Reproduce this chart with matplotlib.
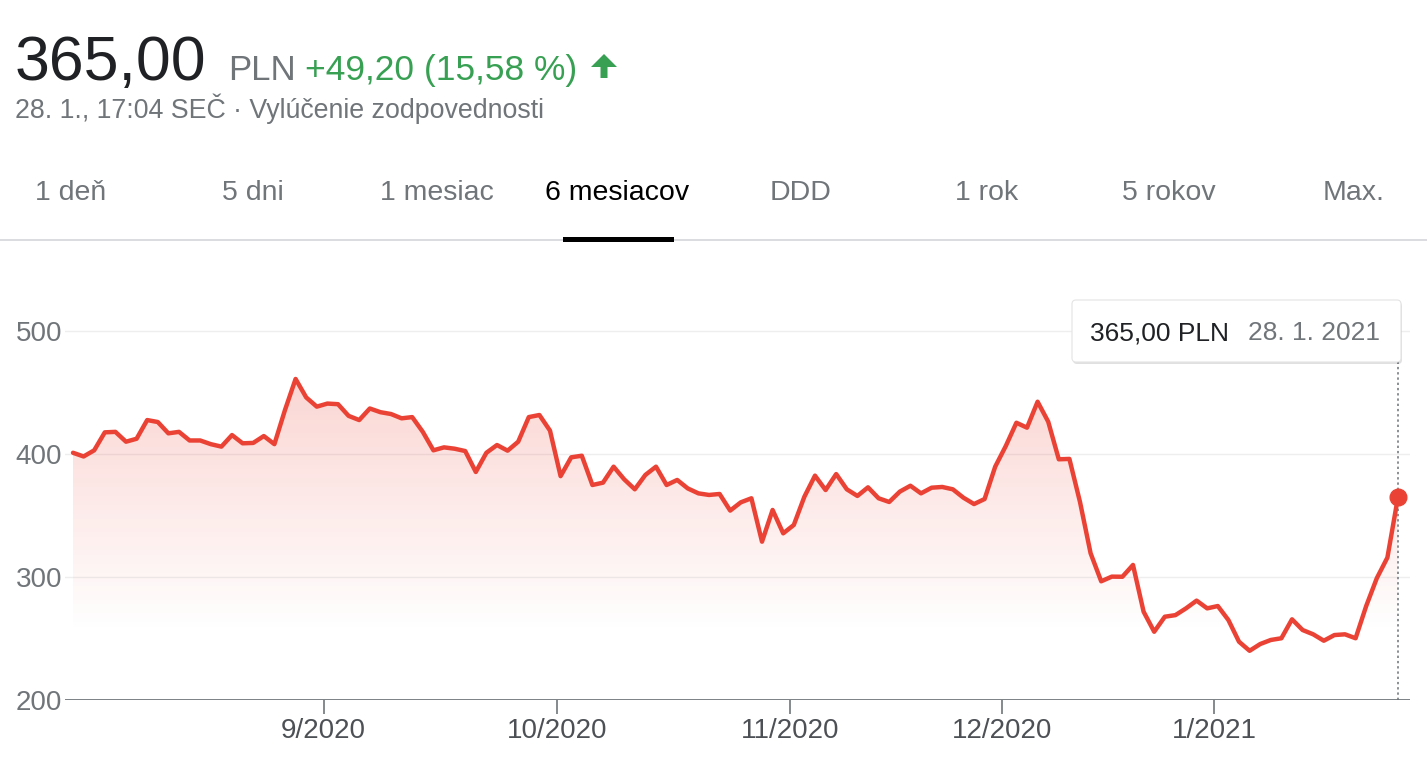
import numpy as np
import pandas as pd
import matplotlib.pyplot as plt
from matplotlib.patches import FancyBboxPatch, Polygon, Rectangle

plt.rcParams['font.family'] = ['Liberation Sans', 'DejaVu Sans']

# trading days on the Warsaw exchange, 29.7.2020 - 28.1.2021
holidays = ["2020-11-11", "2020-12-24", "2020-12-25", "2020-12-31",
            "2021-01-01", "2021-01-06"]
dates = pd.bdate_range("2020-07-29", "2021-01-28", freq="C", holidays=holidays)

prices = [
    401, 398, 403, 417.6, 418, 410, 412.4, 427.6, 426, 416.8,
    418, 411, 411, 408, 406, 415.4, 408.7, 409, 414.6, 408,
    435.8, 461, 446, 438.5, 441, 440.5, 431, 427.6, 437, 434,
    432.5, 429, 430, 418, 403, 405.4, 404.3, 402.4, 385.4, 401,
    407.3, 402.7, 410, 430, 431.7, 419, 382, 397.3, 398.6, 374.8,
    376.7, 389.7, 379.4, 371.3, 383, 389.7, 374.8, 378.9, 372, 368,
    366.7, 367.5, 354, 360.7, 364, 328.7, 354.5, 335.5, 342.3, 365.3,
    382.4, 370.7, 383.7, 371.3, 365.9, 372.9, 364, 361, 369.4, 374.2,
    368, 372.6, 373.2, 371.3, 364.5, 359.3, 363.4, 389.7, 406.5, 425.4,
    421.4, 442.5, 426.3, 395.7, 396, 361, 319.3, 296.5, 300.3, 300.2,
    309.8, 271.8, 255.5, 267.7, 269, 274.5, 280.8, 274.5, 276.4, 265,
    247.4, 240, 245.5, 248.8, 250.2, 265.6, 256.9, 253.4, 248.2, 252.8,
    253.4, 250.2, 276.4, 299, 315.8, 365,
]
assert len(prices) == len(dates)

month_starts = ["2020-09-01", "2020-10-01", "2020-11-01", "2020-12-01", "2021-01-01"]
month_labels = ["9/2020", "10/2020", "11/2020", "12/2020", "1/2021"]
y_ticks = [200, 300, 400, 500]

tabs = ["1 deň", "5 dni", "1 mesiac", "6 mesiacov", "DDD", "1 rok", "5 rokov", "Max."]
tab_x = [35, 222, 380, 545, 770, 955, 1122, 1323]
active_tab = "6 mesiacov"

RED = "#ea4335"
GREEN = "#37a052"
INK = "#202124"
GREY = "#70757a"

W, H = 1427, 766
fig = plt.figure(figsize=(W / 100, H / 100), dpi=100)
fig.patch.set_facecolor("white")

# ---- chart axes (pixel geometry: x 65..1410, 200 at y=700, 123 px per 100) ----
x = np.arange(len(prices))
step = 10.6
x0_px = 73
xl = (65 - x0_px) / step
xr = (1410 - x0_px) / step
ytop = 200 + (700 - 294) / 1.23
ax = fig.add_axes([65 / W, 1 - 700 / H, (1410 - 65) / W, (700 - 294) / H])
ax.set_xlim(xl, xr)
ax.set_ylim(200, ytop)

for yv in y_ticks[1:]:
    ax.axhline(yv, color="#eeeeee", lw=1.0, zorder=0)
ax.axhline(200, color=GREY, lw=2.0, zorder=3)

# gradient fill under the line
grad = np.linspace(0, 1, 256)[:, None]
rgba = np.zeros((256, 1, 4))
rgba[..., 0], rgba[..., 1], rgba[..., 2] = 0.918, 0.263, 0.208
rgba[..., 3] = 0.23 * grad
img = ax.imshow(rgba, extent=[0, x[-1], 255, 470], origin="lower",
                aspect="auto", zorder=1, interpolation="bilinear")
poly = Polygon(np.column_stack([np.r_[x, x[-1], 0], np.r_[prices, 200, 200]]),
               closed=True, transform=ax.transData)
img.set_clip_path(poly)

ax.plot(x, prices, color=RED, lw=3.2, solid_joinstyle="round",
        solid_capstyle="round", zorder=4)
ax.plot([x[-1], x[-1]], [200, 200 + (700 - 362) / 1.23], color="#8a8f94",
        lw=1.4, linestyle=(0, (1.2, 1.5)), zorder=2)
ax.plot(x[-1], prices[-1], "o", color=RED, markersize=12, zorder=5)

tick_pos = [np.searchsorted(dates, pd.Timestamp(m)) - 0.35 for m in month_starts]
ax.set_xticks(tick_pos)
ax.set_xticklabels(month_labels, fontsize=20, color="#4d5156")
ax.set_yticks(y_ticks)
ax.set_yticklabels([str(v) for v in y_ticks], fontsize=20, color=GREY)
ax.tick_params(axis="x", direction="out", length=10, width=1.2, color=GREY, pad=3)
ax.tick_params(axis="y", length=0, pad=2)
for s in ax.spines.values():
    s.set_visible(False)

# ---- overlay in pixel coordinates ----
ov = fig.add_axes([0, 0, 1, 1], zorder=10)
ov.set_xlim(0, W)
ov.set_ylim(H, 0)
ov.axis("off")

ov.text(15, 80, "365,00", fontsize=45, color=INK, va="baseline")
ov.text(228, 80, "PLN", fontsize=25, color=GREY, va="baseline")
ov.text(305, 80, "+49,20 (15,58 %)", fontsize=25.5, color=GREEN, va="baseline")
ov.add_patch(Polygon([(604, 54), (617, 67), (607.5, 67), (607.5, 78),
                      (600.5, 78), (600.5, 67), (591, 67)], closed=True,
                     color=GREEN, lw=0))
ov.text(15, 118, "28. 1., 17:04 SEČ · Vylúčenie zodpovednosti", fontsize=19.3,
        color=GREY, va="baseline")

for label, tx in zip(tabs, tab_x):
    ov.text(tx, 200, label, fontsize=20.5, va="baseline",
            color="#000000" if label == active_tab else GREY)
ov.add_patch(Rectangle((0, 239), W, 2, color="#dadce0", lw=0))
ov.add_patch(Rectangle((563, 237), 111, 5, color="#000000", lw=0))

# tooltip
ov.add_patch(FancyBboxPatch((1073, 302), 329, 62,
                            boxstyle="round,pad=0,rounding_size=4",
                            fc="#000000", ec="none", alpha=0.12))
ov.add_patch(FancyBboxPatch((1072, 300), 329, 62,
                            boxstyle="round,pad=0,rounding_size=4",
                            fc="white", ec="#e4e4e4", lw=0.8))
ov.text(1090, 340, "365,00 PLN", fontsize=19, color=INK, va="baseline")
ov.text(1248, 340, "28. 1. 2021", fontsize=19, color=GREY, va="baseline")

fig.savefig("out.png", dpi=100, facecolor="white")
